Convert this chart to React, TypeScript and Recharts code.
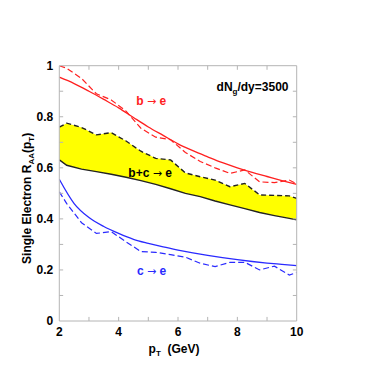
import React from 'react';
import {
  ComposedChart,
  Line,
  Area,
  XAxis,
  YAxis,
  ReferenceLine,
  ReferenceDot,
  Label,
} from 'recharts';

const FONT = "'Liberation Sans Narrow', 'Liberation Sans', Arial, sans-serif";
const ARROW_FONT = "'DejaVu Sans', sans-serif";

// p_T grid for the smooth (solid) curves
const pTSolid = [2, 2.5, 3, 3.5, 4, 4.5, 5, 5.5, 6, 6.5, 7, 7.5, 8, 8.5, 9, 9.5, 10];
const bSolid = [0.955, 0.93, 0.9, 0.868, 0.835, 0.797, 0.76, 0.727, 0.694, 0.667, 0.643, 0.62, 0.6, 0.582, 0.566, 0.55, 0.535];
const cSolid = [0.555, 0.46, 0.405, 0.37, 0.343, 0.32, 0.304, 0.29, 0.278, 0.267, 0.257, 0.248, 0.24, 0.233, 0.227, 0.222, 0.217];

// p_T grid for the dashed curves and the b+c band
const pTDashed = [2, 2.25, 2.75, 3.25, 3.75, 4.25, 4.75, 5.25, 5.75, 6.25, 6.75, 7.25, 7.75, 8.25, 8.75, 9.25, 9.75, 10];
const bDashed = [1.0, 0.99, 0.95, 0.89, 0.866, 0.822, 0.755, 0.72, 0.71, 0.66, 0.625, 0.6, 0.578, 0.592, 0.545, 0.542, 0.552, 0.537];
const cDashed = [0.506, 0.46, 0.385, 0.343, 0.35, 0.31, 0.272, 0.269, 0.26, 0.25, 0.226, 0.213, 0.23, 0.23, 0.2, 0.215, 0.18, 0.19];
const bandUpper = [0.759, 0.775, 0.758, 0.729, 0.738, 0.705, 0.665, 0.637, 0.631, 0.58, 0.565, 0.552, 0.526, 0.539, 0.494, 0.492, 0.49, 0.48];
const bandLower = [0.631, 0.61, 0.595, 0.585, 0.575, 0.563, 0.55, 0.535, 0.518, 0.5, 0.487, 0.47, 0.455, 0.44, 0.425, 0.413, 0.402, 0.396];

const xTicks = [2, 4, 6, 8, 10];
const xMinorTicks = [3, 4, 5, 6, 7, 8, 9];
const yTicks = [0, 0.2, 0.4, 0.6, 0.8, 1];
const yMinorTicks = [0.1, 0.2, 0.3, 0.4, 0.5, 0.6, 0.7, 0.8, 0.9];

const RED = '#ff2020';
const BLUE = '#2a2aff';
const FRAME = '#b4b4b4';

const solidData = pTSolid.map((x, i) => ({ pT: x, b: bSolid[i], c: cSolid[i] }));
const dashedData = pTDashed.map((x, i) => ({
  pT: x,
  b: bDashed[i],
  c: cDashed[i],
  hi: bandUpper[i],
  lo: bandLower[i],
  band: [bandLower[i], bandUpper[i]],
}));

const XLen = 0.13;
const YLen = 0.016;

const YLabel = (props: any) => {
  const vb = props.viewBox || { x: 0, y: 0, width: 0, height: 0 };
  const cx = vb.x + 23;
  const cy = vb.y + vb.height / 2 + 5;
  return (
    <text
      x={cx}
      y={cy}
      transform={`rotate(-90 ${cx} ${cy})`}
      textAnchor="middle"
      fontFamily={FONT}
      fontWeight="bold"
      fontSize={12}
      fill="#000"
    >
      <tspan>Single Electron R</tspan>
      <tspan fontSize={8} dy={3}>AA</tspan>
      <tspan dy={-3}>(p</tspan>
      <tspan fontSize={8} dy={3}>T</tspan>
      <tspan dy={-3}>)</tspan>
    </text>
  );
};

const XLabel = (props: any) => {
  const vb = props.viewBox || { x: 0, y: 0, width: 0, height: 0 };
  const cx = vb.x + vb.width / 2 - 4;
  const cy = vb.y + 32;
  return (
    <text x={cx} y={cy} textAnchor="middle" fontFamily={FONT} fontWeight="bold" fontSize={12} fill="#000">
      <tspan>p</tspan>
      <tspan fontSize={8} dy={3}>T</tspan>
      <tspan dy={-3}>{'\u00a0\u00a0(GeV)'}</tspan>
    </text>
  );
};

const textShape = (content: React.ReactNode, fill: string, anchor: string = 'middle') => (p: any) => (
  <text
    x={p.cx}
    y={p.cy}
    dy="0.36em"
    textAnchor={anchor}
    fontFamily={FONT}
    fontWeight="bold"
    fontSize={12}
    fill={fill}
  >
    {content}
  </text>
);

const arrowText = (left: string, right: string) => (
  <>
    <tspan>{left}</tspan>
    <tspan fontFamily={ARROW_FONT} fontWeight="normal" fontSize={11}>{'\u2192'}</tspan>
    <tspan>{right}</tspan>
  </>
);

export default function App() {
  return (
    <ComposedChart
      width={380}
      height={380}
      data={dashedData}
      margin={{ top: 57.7, right: 91.3, bottom: 27, left: 0 }}
    >
      <XAxis
        dataKey="pT"
        type="number"
        domain={[2, 10]}
        ticks={xTicks}
        allowDataOverflow
        tickLine={false}
        tickSize={0}
        tickMargin={6}
        height={40}
        axisLine={{ stroke: FRAME }}
        tick={{ fill: '#000', fontFamily: FONT, fontWeight: 'bold', fontSize: 12 }}
      >
        <Label content={XLabel} />
      </XAxis>
      <YAxis
        type="number"
        domain={[0, 1]}
        ticks={yTicks}
        allowDataOverflow
        tickLine={false}
        tickSize={0}
        tickMargin={6}
        width={51.3}
        axisLine={{ stroke: FRAME }}
        tickFormatter={(v: number) => (v === 0 || v === 1 ? String(v) : v.toFixed(1))}
        tick={{ fill: '#000', fontFamily: FONT, fontWeight: 'bold', fontSize: 12 }}
      >
        <Label content={YLabel} />
      </YAxis>

      <Area
        dataKey="band"
        type="linear"
        fill="#ffff00"
        fillOpacity={1}
        stroke="none"
        isAnimationActive={false}
      />
      <Line dataKey="lo" type="linear" stroke="#222" strokeWidth={1.4} dot={false} isAnimationActive={false} />
      <Line dataKey="hi" type="linear" stroke="#222" strokeWidth={1.4} strokeDasharray="5 3" dot={false} isAnimationActive={false} />

      <Line data={solidData} dataKey="b" type="monotone" stroke={RED} strokeWidth={1.3} dot={false} isAnimationActive={false} />
      <Line dataKey="b" type="linear" stroke={RED} strokeWidth={1.2} strokeDasharray="6 3" dot={false} isAnimationActive={false} />
      <Line data={solidData} dataKey="c" type="monotone" stroke={BLUE} strokeWidth={1.3} dot={false} isAnimationActive={false} />
      <Line dataKey="c" type="linear" stroke={BLUE} strokeWidth={1.2} strokeDasharray="6 3" dot={false} isAnimationActive={false} />

      <ReferenceLine y={1} stroke={FRAME} />
      <ReferenceLine x={10} stroke={FRAME} />

      {xMinorTicks.map((t) => (
        <ReferenceLine key={`xb${t}`} segment={[{ x: t, y: 0 }, { x: t, y: YLen }]} stroke={FRAME} />
      ))}
      {xMinorTicks.map((t) => (
        <ReferenceLine key={`xt${t}`} segment={[{ x: t, y: 1 }, { x: t, y: 1 - YLen }]} stroke={FRAME} />
      ))}
      {yMinorTicks.map((t) => (
        <ReferenceLine key={`yl${t}`} segment={[{ x: 2, y: t }, { x: 2 + XLen, y: t }]} stroke={FRAME} />
      ))}
      {yMinorTicks.map((t) => (
        <ReferenceLine key={`yr${t}`} segment={[{ x: 10, y: t }, { x: 10 - XLen, y: t }]} stroke={FRAME} />
      ))}

      <ReferenceDot
        x={7.3}
        y={0.918}
        r={0}
        shape={textShape(
          <>
            <tspan>dN</tspan>
            <tspan fontSize={8} dy={3}>g</tspan>
            <tspan dy={-3}>/dy=3500</tspan>
          </>,
          '#000',
          'start'
        )}
      />
      <ReferenceDot x={5.1} y={0.863} r={0} shape={textShape(arrowText('b ', ' e'), RED)} />
      <ReferenceDot x={5.06} y={0.581} r={0} shape={textShape(arrowText('b+c ', ' e'), '#000')} />
      <ReferenceDot x={5.11} y={0.196} r={0} shape={textShape(arrowText('c ', ' e'), BLUE)} />
    </ComposedChart>
  );
}
